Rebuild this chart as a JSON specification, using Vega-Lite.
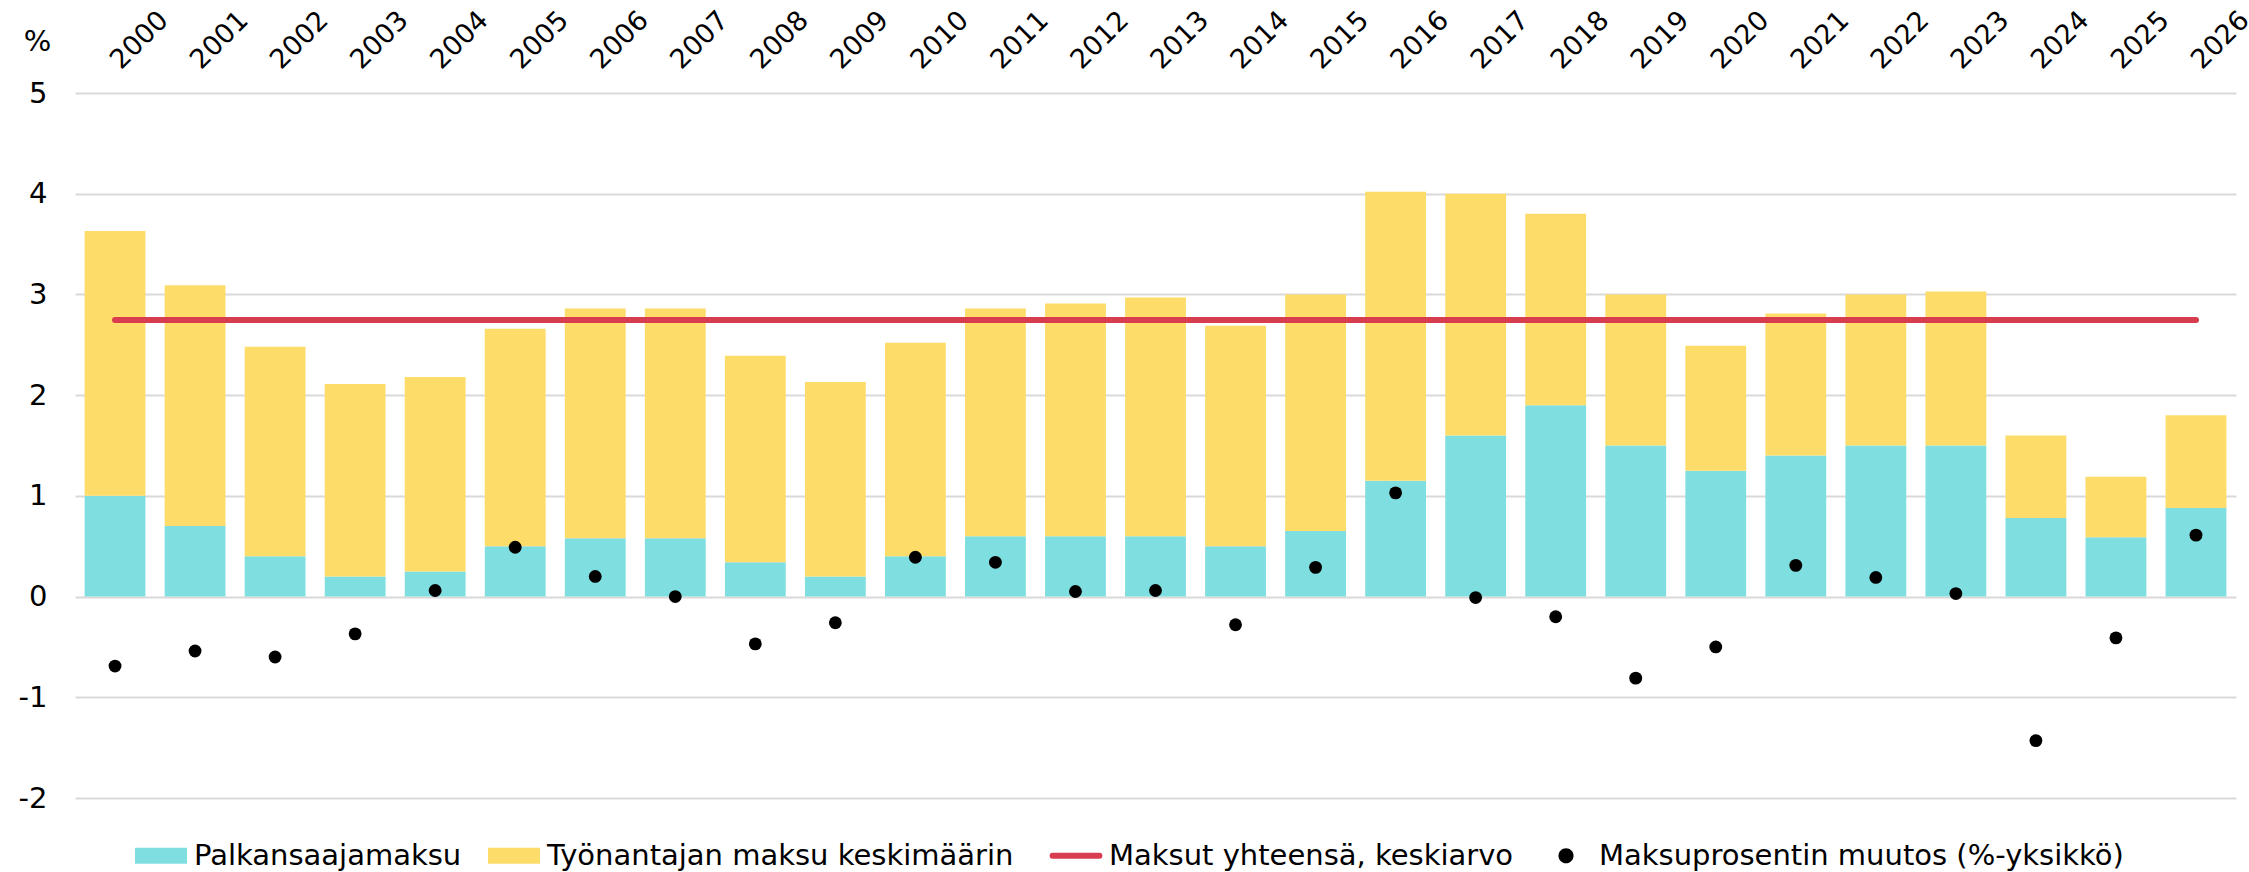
{
  "$schema": "https://vega.github.io/schema/vega-lite/v6.json",
  "autosize": "none",
  "padding": {"left": 75, "top": 93, "right": 13, "bottom": 74},
  "width": 2161,
  "height": 705,
  "background": "white",
  "config": {
    "view": {"stroke": null},
    "font": "DejaVu Sans",
    "axis": {"labelFont": "DejaVu Sans", "labelFontSize": 29, "labelColor": "#000000", "titleFont": "DejaVu Sans"},
    "legend": {"labelFont": "DejaVu Sans"}
  },
  "data": {
    "values": [
      {"year": "2000", "emp": 1.0, "er": 2.63, "avg": 2.745, "chg": -0.69},
      {"year": "2001", "emp": 0.7, "er": 2.39, "avg": 2.745, "chg": -0.54},
      {"year": "2002", "emp": 0.4, "er": 2.08, "avg": 2.745, "chg": -0.6},
      {"year": "2003", "emp": 0.2, "er": 1.91, "avg": 2.745, "chg": -0.37},
      {"year": "2004", "emp": 0.25, "er": 1.93, "avg": 2.745, "chg": 0.06},
      {"year": "2005", "emp": 0.5, "er": 2.16, "avg": 2.745, "chg": 0.49},
      {"year": "2006", "emp": 0.58, "er": 2.28, "avg": 2.745, "chg": 0.2},
      {"year": "2007", "emp": 0.58, "er": 2.28, "avg": 2.745, "chg": 0.0},
      {"year": "2008", "emp": 0.34, "er": 2.05, "avg": 2.745, "chg": -0.47},
      {"year": "2009", "emp": 0.2, "er": 1.93, "avg": 2.745, "chg": -0.26},
      {"year": "2010", "emp": 0.4, "er": 2.12, "avg": 2.745, "chg": 0.39},
      {"year": "2011", "emp": 0.6, "er": 2.26, "avg": 2.745, "chg": 0.34},
      {"year": "2012", "emp": 0.6, "er": 2.31, "avg": 2.745, "chg": 0.05},
      {"year": "2013", "emp": 0.6, "er": 2.37, "avg": 2.745, "chg": 0.06},
      {"year": "2014", "emp": 0.5, "er": 2.19, "avg": 2.745, "chg": -0.28},
      {"year": "2015", "emp": 0.65, "er": 2.35, "avg": 2.745, "chg": 0.29},
      {"year": "2016", "emp": 1.15, "er": 2.87, "avg": 2.745, "chg": 1.03},
      {"year": "2017", "emp": 1.6, "er": 2.4, "avg": 2.745, "chg": -0.01},
      {"year": "2018", "emp": 1.9, "er": 1.9, "avg": 2.745, "chg": -0.2},
      {"year": "2019", "emp": 1.5, "er": 1.5, "avg": 2.745, "chg": -0.81},
      {"year": "2020", "emp": 1.25, "er": 1.24, "avg": 2.745, "chg": -0.5},
      {"year": "2021", "emp": 1.4, "er": 1.41, "avg": 2.745, "chg": 0.31},
      {"year": "2022", "emp": 1.5, "er": 1.5, "avg": 2.745, "chg": 0.19},
      {"year": "2023", "emp": 1.5, "er": 1.53, "avg": 2.745, "chg": 0.03},
      {"year": "2024", "emp": 0.78, "er": 0.82, "avg": 2.745, "chg": -1.43},
      {"year": "2025", "emp": 0.59, "er": 0.6, "avg": 2.745, "chg": -0.41},
      {"year": "2026", "emp": 0.88, "er": 0.92, "avg": 2.745, "chg": 0.61}
    ]
  },
  "transform": [{"fold": ["emp", "er", "avg", "chg"], "as": ["series", "value"]}],
  "encoding": {
    "x": {
      "field": "year",
      "type": "nominal",
      "sort": null,
      "scale": {"paddingInner": 0.24, "paddingOuter": 0.12},
      "axis": {
        "orient": "top",
        "title": null,
        "labelAngle": -45,
        "labelAlign": "left",
        "labelBaseline": "alphabetic",
        "labelFontSize": 27,
        "labelPadding": 23,
        "labelOffset": 6,
        "ticks": false,
        "domain": false,
        "grid": false
      }
    },
    "y": {
      "field": "value",
      "type": "quantitative",
      "scale": {"domain": [-2, 5], "nice": false, "zero": false},
      "axis": {
        "values": [-2, -1, 0, 1, 2, 3, 4, 5],
        "labelExpr": "'' + datum.value",
        "title": "%",
        "titleAngle": 0,
        "titleX": -38,
        "titleY": -52,
        "titleAlign": "center",
        "titleBaseline": "middle",
        "titleFontSize": 29,
        "titleFontWeight": "normal",
        "titleColor": "#000000",
        "labelPadding": 28,
        "ticks": false,
        "domain": false,
        "grid": true,
        "gridColor": "#D9D9D9",
        "gridWidth": 2
      }
    },
    "color": {
      "field": "series",
      "type": "nominal",
      "scale": {
        "domain": ["emp", "er", "avg", "chg"],
        "range": ["#7FDFE0", "#FEDC69", "#D73C4F", "#000000"]
      },
      "legend": {
        "orient": "none",
        "direction": "horizontal",
        "legendX": 60,
        "legendY": 748,
        "title": null,
        "labelFontSize": 29,
        "labelColor": "#000000",
        "labelLimit": 1000,
        "labelOffset": 6,
        "columnPadding": 26,
        "symbolSize": 2704,
        "labelExpr": "datum.value === 'emp' ? 'Palkansaajamaksu' : datum.value === 'er' ? 'Työnantajan maksu keskimäärin' : datum.value === 'avg' ? 'Maksut yhteensä, keskiarvo' : 'Maksuprosentin muutos (%-yksikkö)'",
        "encode": {
          "symbols": {
            "update": {
              "x": {"value": 26},
              "shape": {"signal": "datum.value === 'avg' ? 'M-0.9,0H0.9' : datum.value === 'chg' ? 'M0,-0.29A0.29,0.29 0 1,1 0,0.29A0.29,0.29 0 1,1 0,-0.29Z' : 'M-1,-0.31H1V0.31H-1Z'"},
              "fill": {"signal": "datum.value === 'emp' ? '#7FDFE0' : datum.value === 'er' ? '#FEDC69' : datum.value === 'chg' ? '#000000' : 'transparent'"},
              "stroke": {"signal": "datum.value === 'avg' ? '#D73C4F' : 'transparent'"},
              "strokeWidth": {"signal": "datum.value === 'avg' ? 6 : 0"},
              "strokeCap": {"value": "round"},
              "opacity": {"value": 1},
              "fillOpacity": {"value": 1},
              "size": {"value": 2704}
            }
          },
          "labels": {
            "update": {
              "x": {"value": 59}
            }
          }
        }
      }
    }
  },
  "layer": [
    {
      "transform": [{"filter": "datum.series === 'emp' || datum.series === 'er'"}],
      "mark": {"type": "bar"},
      "encoding": {
        "order": {"field": "series", "type": "nominal", "sort": "ascending"}
      }
    },
    {
      "transform": [{"filter": "datum.series === 'avg'"}],
      "mark": {"type": "line", "strokeWidth": 6, "strokeCap": "round"}
    },
    {
      "transform": [{"filter": "datum.series === 'chg'"}],
      "mark": {"type": "point", "filled": true, "size": 165, "opacity": 1}
    }
  ]
}
